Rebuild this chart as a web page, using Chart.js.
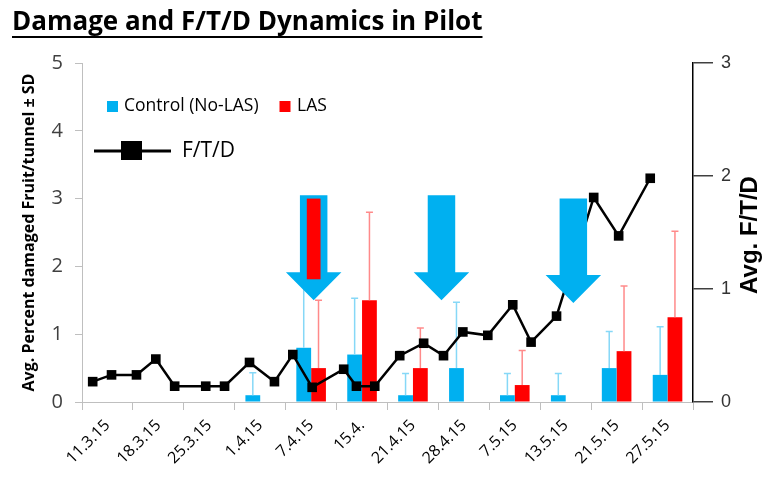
<!DOCTYPE html>
<html><head><meta charset="utf-8">
<script src="https://cdn.jsdelivr.net/npm/chart.js@4.4.1/dist/chart.umd.min.js"></script>
<style>html,body{margin:0;padding:0;background:#fff;}#wrap{width:772px;height:487px;position:relative;}</style>
</head><body><div id="wrap"><canvas id="c" width="772" height="487"></canvas></div>
<script>
// ---- data ----
const categories = ['11.3.15','18.3.15','25.3.15','1.4.15','7.4.15','15.4.','21.4.15','28.4.15','7.5.15','13.5.15','21.5.15','27.5.15'];
const controlValues = [0, 0, 0, 0.1, 0.8, 0.7, 0.1, 0.5, 0.1, 0.1, 0.5, 0.4];
const controlSD     = [null, null, null, 0.33, 1.0, 0.83, 0.32, 0.97, 0.32, 0.32, 0.54, 0.71];
const lasValues     = [0, 0, 0, 0, 0.5, 1.5, 0.5, 0, 0.25, 0, 0.75, 1.25];
const lasSD         = [null, null, null, null, 1.0, 1.3, 0.59, null, 0.51, null, 0.96, 1.27];
// F/T/D sampling points: position along the date axis (in week-category units) and value
const ftdPosition = [-0.29, 0.08, 0.57, 0.95, 1.32, 1.93, 2.30, 2.79, 3.28, 3.64, 4.02, 4.64, 4.89, 5.25, 5.74, 6.21, 6.60, 6.98, 7.47, 7.96, 8.32, 8.82, 9.55, 10.04, 10.66];
const ftdValues   = [0.18, 0.24, 0.24, 0.38, 0.14, 0.14, 0.14, 0.35, 0.18, 0.42, 0.13, 0.29, 0.14, 0.14, 0.41, 0.52, 0.41, 0.62, 0.59, 0.86, 0.53, 0.76, 1.81, 1.47, 1.98];
const leftTicks  = [0, 1, 2, 3, 4, 5];
const rightTicks = [0, 1, 2, 3];
// treatment arrows (annotation): position along date axis, top / tip in left-axis units
const arrowPosition = [4.05, 6.56, 9.15];
const arrowTop      = [3.05, 3.05, 3.0];
const arrowTip      = [1.5, 1.5, 1.46];
const lasMarkFrom = 1.81, lasMarkTo = 3.0; // red LAS mark inside first arrow

const BLUE = '#00B0F0', RED = '#FF0000';

const whiskerPlugin = {
  id: 'whiskers',
  afterDatasetDraw(chart, args) {
    const ds = chart.data.datasets[args.index];
    if (!ds.sd) return;
    const ctx = chart.ctx, ys = chart.scales.y;
    ctx.save();
    ctx.strokeStyle = ds.whiskerColor; ctx.lineWidth = 1.5;
    args.meta.data.forEach((bar, i) => {
      const sd = ds.sd[i];
      if (sd == null) return;
      const yTop = ys.getPixelForValue(ds.data[i] + sd);
      const yBase = ys.getPixelForValue(ds.data[i]);
      ctx.beginPath();
      ctx.moveTo(bar.x, yBase); ctx.lineTo(bar.x, yTop);
      ctx.moveTo(bar.x - 3.5, yTop); ctx.lineTo(bar.x + 3.5, yTop);
      ctx.stroke();
    });
    ctx.restore();
  }
};

const decorPlugin = {
  id: 'decor',
  afterDatasetsDraw(chart) {
    const ctx = chart.ctx, xs = chart.scales.xl, ys = chart.scales.y;
    const unit = xs.getPixelForValue(1) - xs.getPixelForValue(0);
    ctx.save();
    arrowPosition.forEach((p, i) => {
      const cx = xs.getPixelForValue(p);
      const top = ys.getPixelForValue(arrowTop[i]);
      const tip = ys.getPixelForValue(arrowTip[i]);
      const sh = unit * 0.27, hh = unit * 0.545;
      const headY = tip - 28;
      ctx.fillStyle = BLUE;
      ctx.beginPath();
      ctx.moveTo(cx - sh, top); ctx.lineTo(cx + sh, top); ctx.lineTo(cx + sh, headY);
      ctx.lineTo(cx + hh, headY); ctx.lineTo(cx, tip); ctx.lineTo(cx - hh, headY);
      ctx.lineTo(cx - sh, headY); ctx.closePath(); ctx.fill();
      if (i === 0) {
        ctx.fillStyle = RED;
        const y1 = ys.getPixelForValue(lasMarkTo), y2 = ys.getPixelForValue(lasMarkFrom);
        ctx.fillRect(cx - unit * 0.135, y1, unit * 0.27, y2 - y1);
      }
    });
    ctx.restore();
  },
  afterDraw(chart) {
    const ctx = chart.ctx;
    const ds = chart.data.datasets;
    ctx.save();
    // title
    ctx.fillStyle = '#000';
    ctx.font = 'bold 26px "Open Sans"';
    ctx.textBaseline = 'alphabetic'; ctx.textAlign = 'left';
    const t = 'Damage and F/T/D Dynamics in Pilot';
    ctx.fillText(t, 12, 30);
    const w = ctx.measureText(t).width;
    ctx.fillRect(12, 36, w, 2);
    // legend
    ctx.font = '17.5px "Open Sans"'; ctx.textBaseline = 'middle';
    ctx.fillStyle = ds[1].backgroundColor; ctx.fillRect(107, 101, 11, 11);
    ctx.fillStyle = '#000'; ctx.fillText(ds[1].label, 124, 106);
    ctx.fillStyle = ds[2].backgroundColor; ctx.fillRect(279.5, 101, 11, 11);
    ctx.fillStyle = '#000'; ctx.fillText(ds[2].label, 297, 106);
    ctx.strokeStyle = '#000'; ctx.lineWidth = 3;
    ctx.beginPath(); ctx.moveTo(94, 151); ctx.lineTo(171, 151); ctx.stroke();
    ctx.fillRect(121, 141, 21, 19);
    ctx.font = '21px "Open Sans"';
    ctx.fillText(ds[0].label, 182, 151);
    // right axis title
    ctx.font = 'bold 24px "Liberation Sans"';
    ctx.translate(750, 235); ctx.rotate(-Math.PI / 2);
    ctx.textAlign = 'center';
    ctx.fillText('Avg. F/T/D', 0, 0);
    ctx.restore();
  }
};

new Chart(document.getElementById('c'), {
  type: 'bar',
  data: {
    labels: categories,
    datasets: [
      { type: 'line', label: 'F/T/D', data: ftdPosition.map((p, i) => ({ x: p, y: ftdValues[i] })),
        xAxisID: 'xl', yAxisID: 'y2', borderColor: '#000', backgroundColor: '#000', borderWidth: 2.5,
        pointStyle: 'rect', pointRadius: 6.8, pointBackgroundColor: '#000', pointBorderWidth: 0, tension: 0, order: 0 },
      { label: 'Control (No-LAS)', data: controlValues, sd: controlSD, whiskerColor: '#86D8F7',
        backgroundColor: BLUE, xAxisID: 'x', yAxisID: 'y', order: 1, barThickness: 14.8, borderWidth: 0, inflateAmount: 0 },
      { label: 'LAS', data: lasValues, sd: lasSD, whiskerColor: '#FF8A8A',
        backgroundColor: RED, xAxisID: 'x', yAxisID: 'y', order: 2, barThickness: 14.8, borderWidth: 0, inflateAmount: 0 }
    ]
  },
  options: {
    responsive: false, animation: false, devicePixelRatio: 1,
    layout: { padding: { top: 63, left: 16, right: 0, bottom: 0 } },
    plugins: { legend: { display: false }, title: { display: false }, tooltip: { enabled: false } },
    scales: {
      x: { type: 'category', offset: true,
        grid: { drawOnChartArea: false, offset: true, tickLength: 8, color: '#BFBFBF' },
        border: { color: '#BFBFBF', width: 1 },
        ticks: { autoSkip: false, minRotation: 45, maxRotation: 45, padding: 6,
          font: { family: 'Open Sans', size: 16 }, color: '#000' },
        afterFit(s) { s.height = 85; } },
      xl: { type: 'linear', display: false, offset: false, grid: { offset: false }, min: -0.5, max: 11.5 },
      y: { position: 'left', min: leftTicks[0], max: leftTicks[leftTicks.length - 1],
        afterBuildTicks(s) { s.ticks = leftTicks.map(v => ({ value: v })); },
        ticks: { font: { family: 'Open Sans', size: 20 }, color: '#404040', padding: 12 },
        grid: { drawOnChartArea: false, tickLength: 7, color: '#BFBFBF' },
        border: { color: '#BFBFBF' },
        title: { display: true, text: 'Avg. Percent damaged Fruit/tunnel ± SD', color: '#000',
          font: { family: 'Open Sans', size: 16, weight: 'bold' }, padding: { top: 4, bottom: 0 } },
        afterFit(s) { s.width = 66; } },
      y2: { position: 'right', min: rightTicks[0], max: rightTicks[rightTicks.length - 1],
        afterBuildTicks(s) { s.ticks = rightTicks.map(v => ({ value: v })); },
        ticks: { font: { family: 'Liberation Sans', size: 18 }, color: '#333', padding: 8 },
        grid: { drawOnChartArea: false, tickLength: 20, color: '#404040', lineWidth: 1.5 },
        border: { color: '#000', width: 1.5 },
        afterFit(s) { s.width = 79; } }
    }
  },
  plugins: [whiskerPlugin, decorPlugin]
});
</script></body></html>
